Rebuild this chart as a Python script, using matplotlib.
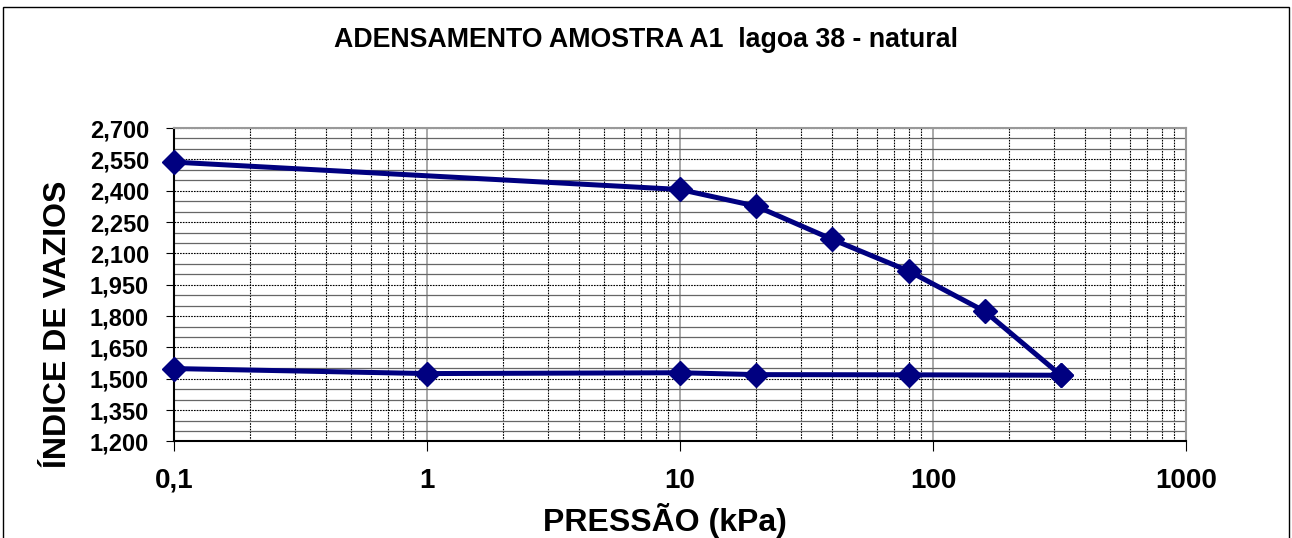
import matplotlib.pyplot as plt
from matplotlib.ticker import FixedLocator, FuncFormatter, NullFormatter
from matplotlib.patches import Rectangle

plt.rcParams['font.family'] = ['Liberation Sans', 'DejaVu Sans']
plt.rcParams['font.weight'] = 'bold'

# carregamento
pressao_carga = [0.1, 10, 20, 40, 80, 160, 320]
indice_carga = [2.537, 2.406, 2.326, 2.167, 2.016, 1.823, 1.517]

# descarregamento
pressao_descarga = [0.1, 1, 10, 20, 80, 320]
indice_descarga = [1.549, 1.525, 1.529, 1.520, 1.519, 1.517]

y_ticks = [1.20, 1.35, 1.50, 1.65, 1.80, 1.95, 2.10, 2.25, 2.40, 2.55, 2.70]
x_ticks = [0.1, 1, 10, 100, 1000]
x_labels = ['0,1', '1', '10', '100', '1000']

fig = plt.figure(figsize=(12.92, 5.38), dpi=100)
ax = fig.add_axes([0.1347, 0.1794, 0.7833, 0.5826])

# moldura externa
fig.patches.append(Rectangle((0.0025, -0.01), 0.995, 0.997, transform=fig.transFigure,
                             fill=False, edgecolor='black', linewidth=1.0))

ax.set_xscale('log')
ax.set_xlim(0.1, 1000)
ax.set_ylim(1.2, 2.7)

ax.xaxis.set_major_locator(FixedLocator(x_ticks))
ax.xaxis.set_major_formatter(FuncFormatter(lambda v, p: x_labels[x_ticks.index(v)] if v in x_ticks else ''))
minor_x = [m * 10.0 ** e for e in range(-1, 3) for m in range(2, 10)]
ax.xaxis.set_minor_locator(FixedLocator(minor_x))
ax.xaxis.set_minor_formatter(NullFormatter())

ax.yaxis.set_major_locator(FixedLocator(y_ticks))
ax.yaxis.set_major_formatter(FuncFormatter(lambda v, p: f'{v:.3f}'.replace('.', ',')))
minor_y = [1.2 + 0.05 * i for i in range(31)]
minor_y = [v for v in minor_y if min(abs(v - t) for t in y_ticks) > 1e-6]
ax.yaxis.set_minor_locator(FixedLocator(minor_y))

# grades
ax.grid(which='major', axis='x', color='#999999', linestyle='-', linewidth=1.2)
ax.grid(which='minor', axis='x', color='black', linestyle=(0, (1.5, 1)), linewidth=0.8)
ax.grid(which='major', axis='y', color='black', linestyle=(0, (1.5, 1)), linewidth=0.8)
ax.grid(which='minor', axis='y', color='#666666', linestyle='-', linewidth=0.9)

ax.tick_params(axis='y', which='major', direction='out', length=6, labelsize=17, pad=12)
ax.tick_params(axis='x', which='major', direction='out', length=7, labelsize=20, pad=12)
ax.tick_params(which='minor', length=0)

for s in ['top', 'right']:
    ax.spines[s].set_color('#999999')
    ax.spines[s].set_linewidth(1.5)
for s in ['left', 'bottom']:
    ax.spines[s].set_color('black')
    ax.spines[s].set_linewidth(1.5)

ax.plot(pressao_carga, indice_carga, color='#000080', linewidth=3.6, marker='D',
        markersize=12, clip_on=False, zorder=5)
ax.plot(pressao_descarga, indice_descarga, color='#000080', linewidth=3.6, marker='D',
        markersize=12, clip_on=False, zorder=5)

ax.set_xlabel('PRESSÃO (kPa)', fontsize=23, fontweight='bold')
ax.xaxis.set_label_coords(0.485, -0.196)
ax.set_ylabel('ÍNDICE DE VAZIOS', fontsize=23, fontweight='bold')
ax.yaxis.set_label_coords(-0.100, 0.375)
fig.text(0.5, 0.925, 'ADENSAMENTO AMOSTRA A1  lagoa 38 - natural', ha='center', va='center',
         fontsize=19.3, fontweight='bold')

fig.savefig('out.png', dpi=100)
